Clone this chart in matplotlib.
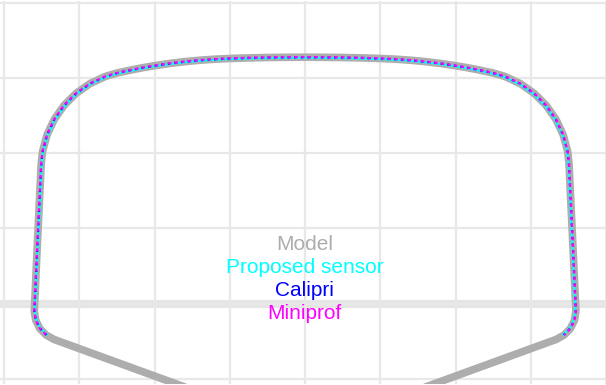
import matplotlib
matplotlib.use('Agg')
import matplotlib.pyplot as plt

plt.rcParams['font.family'] = ['Liberation Sans', 'DejaVu Sans']

# 모델 레일 두부 프로파일 (mm)
model_x = [-12.0, -33.37, -34.43, -35.28, -35.81, -36.00, -35.55, -35.08, -34.90, -34.31,
           -33.35, -32.05, -30.45, -28.60, -26.54, -24.96, -23.0, -21.5, -20.0, -18.0,
           -16.0, -14.0, -12.0, -10.0, -7.5, -5.0, -2.5, 0.0,
           2.5, 5.0, 7.5, 10.0, 12.0, 14.0, 16.0, 18.0, 20.0, 21.5,
           23.0, 24.96, 26.54, 28.60, 30.45, 32.05, 33.35, 34.31, 34.90, 35.08,
           35.55, 36.00, 35.81, 35.28, 34.43, 33.37, 12.0]
model_y = [-12.55, -4.77, -4.18, -3.30, -2.21, -1.01, 8.80, 18.63, 20.24, 22.43,
           24.48, 26.34, 27.94, 29.24, 30.20, 30.66, 31.08, 31.37, 31.62, 31.92,
           32.16, 32.35, 32.49, 32.58, 32.66, 32.71, 32.74, 32.75,
           32.74, 32.71, 32.66, 32.58, 32.49, 32.35, 32.16, 31.92, 31.62, 31.37,
           31.08, 30.66, 30.20, 29.24, 27.94, 26.34, 24.48, 22.43, 20.24, 18.63,
           8.80, -1.01, -2.21, -3.30, -4.18, -4.77, -12.55]

# 측정 결과 (mm)
sensor_x = [-34.35, -35.20, -35.72, -35.92, -35.47, -35.00, -34.82, -34.23, -33.27, -31.98,
            -30.39, -28.55, -26.50, -24.93, -22.98, -21.48, -19.99, -17.99, -15.99, -13.99,
            -11.99, -9.99, -7.50, -5.00, -2.50, 0.00,
            2.50, 5.00, 7.50, 9.99, 11.99, 13.99, 15.99, 17.99, 19.99, 21.48,
            22.98, 24.93, 26.50, 28.55, 30.39, 31.98, 33.27, 34.23, 34.82, 35.00,
            35.47, 35.92, 35.72, 35.20, 34.35]
sensor_y = [-4.12, -3.25, -2.17, -0.98, 8.80, 18.60, 20.20, 22.37, 24.41, 26.26,
            27.85, 29.15, 30.11, 30.57, 31.00, 31.29, 31.54, 31.84, 32.08, 32.27,
            32.41, 32.50, 32.58, 32.63, 32.66, 32.67,
            32.66, 32.63, 32.58, 32.50, 32.41, 32.27, 32.08, 31.84, 31.54, 31.29,
            31.00, 30.57, 30.11, 29.15, 27.85, 26.26, 24.41, 22.37, 20.20, 18.60,
            8.80, -0.98, -2.17, -3.25, -4.12]

calipri_x = [-34.40, -35.26, -35.80, -35.99, -35.54, -35.07, -34.89, -34.30, -33.34, -32.04,
             -30.44, -28.59, -26.53, -24.95, -23.00, -21.50, -20.00, -18.00, -16.00, -14.00,
             -12.00, -10.00, -7.50, -5.00, -2.50, 0.00,
             2.50, 5.00, 7.50, 10.00, 12.00, 14.00, 16.00, 18.00, 20.00, 21.50,
             23.00, 24.95, 26.53, 28.59, 30.44, 32.04, 33.34, 34.30, 34.89, 35.07,
             35.54, 35.99, 35.80, 35.26, 34.40]
calipri_y = [-4.17, -3.29, -2.20, -1.00, 8.81, 18.63, 20.23, 22.42, 24.47, 26.33,
             27.93, 29.23, 30.19, 30.65, 31.07, 31.36, 31.61, 31.91, 32.15, 32.34,
             32.48, 32.57, 32.65, 32.70, 32.73, 32.74,
             32.73, 32.70, 32.65, 32.57, 32.48, 32.34, 32.15, 31.91, 31.61, 31.36,
             31.07, 30.65, 30.19, 29.23, 27.93, 26.33, 24.47, 22.42, 20.23, 18.63,
             8.81, -1.00, -2.20, -3.29, -4.17]

miniprof_x = [-34.12, -34.42, -35.27, -35.81, -36.00, -35.55, -35.08, -34.90, -34.31, -33.35,
              -32.05, -30.45, -28.60, -26.54, -24.96, -23.00, -21.50, -20.00, -18.00, -16.00,
              -14.00, -12.00, -10.00, -7.50, -5.00, -2.50, 0.00,
              2.50, 5.00, 7.50, 10.00, 12.00, 14.00, 16.00, 18.00, 20.00, 21.50,
              23.00, 24.96, 26.54, 28.60, 30.45, 32.05, 33.35, 34.31, 34.90, 35.08,
              35.55, 36.00, 35.81, 35.27, 34.42]
miniprof_y = [-4.40, -4.17, -3.29, -2.21, -1.01, 8.80, 18.64, 20.25, 22.44, 24.49,
              26.35, 27.95, 29.25, 30.21, 30.67, 31.09, 31.38, 31.63, 31.93, 32.17,
              32.36, 32.50, 32.59, 32.67, 32.72, 32.75, 32.76,
              32.75, 32.72, 32.67, 32.59, 32.50, 32.36, 32.17, 31.93, 31.63, 31.38,
              31.09, 30.67, 30.21, 29.25, 27.95, 26.35, 24.49, 22.44, 20.25, 18.64,
              8.80, -1.01, -2.21, -3.29, -4.17]

labels = ['Model', 'Proposed sensor', 'Calipri', 'Miniprof']
colors = ['#adadad', '#00ffff', '#0000ff', '#ff00ff']

fig = plt.figure(figsize=(6.06, 3.85), dpi=100)
ax = fig.add_axes([0, 0, 1, 1])

ax.set_xlim(-40.56, 39.70)
ax.set_ylim(-10.73, 40.26)
ax.set_aspect('equal')
ax.set_xticks(range(-40, 41, 10))
ax.set_yticks(range(-10, 41, 10))
ax.tick_params(length=0, labelbottom=False, labelleft=False)
for s in ax.spines.values():
    s.set_visible(False)
ax.grid(True, color='#e8e8e8', linewidth=1.6)
ax.set_axisbelow(True)
ax.axhline(0, color='#e5e5e5', linewidth=5.8, zorder=0.5)

ax.plot(model_x, model_y, color=colors[0], linewidth=5.5, solid_joinstyle='round', zorder=2)
ax.plot(sensor_x, sensor_y, color=colors[1], linewidth=1.5, zorder=3)
ax.plot(calipri_x, calipri_y, color=colors[2], linewidth=1.6, linestyle=(0, (1, 2)), zorder=4)
ax.plot(miniprof_x, miniprof_y, color=colors[3], linewidth=1.6, linestyle=(1.5, (1.5, 1.5)), zorder=5)

# 범례 텍스트
label_y = [7.15, 4.07, 0.97, -1.99]
for txt, c, yy in zip(labels, colors, label_y):
    ax.text(-0.1, yy, txt, color=c, fontsize=15, ha='center', va='baseline', zorder=6)

plt.savefig('out.png', dpi=100)
